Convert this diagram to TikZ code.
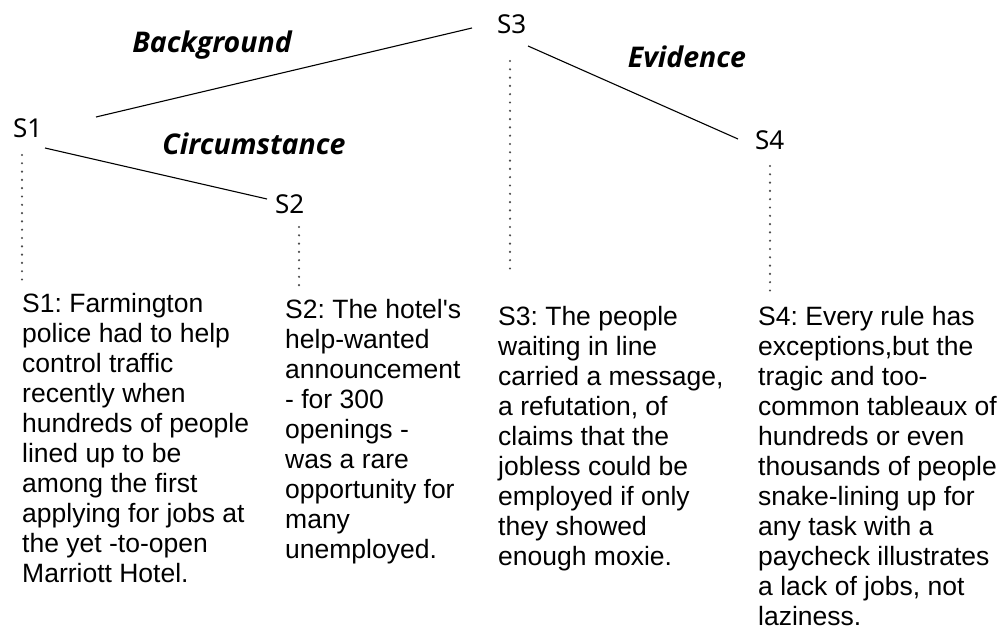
\documentclass[tikz,border=0pt]{standalone}
\usepackage{fontspec}
\setmainfont{Liberation Sans}
\newfontfamily\labfont{Noto Sans}
\newfontfamily\relfont{Open Sans}
\frenchspacing
\tikzset{
  body/.style={font=\frenchspacing\fontsize{26.5}{30}\selectfont, align=left, anchor=north west, inner sep=0pt},
  sname/.style={font=\labfont\fontsize{26}{30}\selectfont, anchor=base west, inner sep=0pt},
  rel/.style={font=\relfont\bfseries\itshape\fontsize{28.5}{32}\selectfont, anchor=base, inner sep=0pt},
  link/.style={line width=1.1pt, black},
  dots/.style={line width=2.4pt, black!70, line cap=round, dash pattern=on 0pt off 8.3pt}
}
\begin{document}
\begin{tikzpicture}[x=1pt, y=-1pt]
\useasboundingbox (0,0) rectangle (998,631);
% tree labels
\node[sname] (s1) at (13,138) {S1};
\node[sname] (s2) at (275,213) {S2};
\node[sname] (s3) at (497,34) {S3};
\node[sname] (s4) at (755,150) {S4};
% relation labels
\node[rel] (bg) at (212,53) {Background};
\node[rel] (ci) at (254,155) {Circumstance};
\node[rel] (ev) at (687,68) {Evidence};
% connector ends
\coordinate (a1) at (96,117);
\coordinate (a3) at (472,28);
\coordinate (b1) at (45,148);
\coordinate (b2) at (267,199);
\coordinate (c3) at (528,46);
\coordinate (c4) at (738,139);
\draw[link] (a1) -- (a3);
\draw[link] (b1) -- (b2);
\draw[link] (c3) -- (c4);
% dotted leaders
\coordinate (d1t) at (22,155); \coordinate (d1b) at (22,280);
\coordinate (d2t) at (299,227); \coordinate (d2b) at (299,286);
\coordinate (d3t) at (510,61); \coordinate (d3b) at (510,271);
\coordinate (d4t) at (770,166); \coordinate (d4b) at (770,292);
\draw[dots] (d1t) -- (d1b);
\draw[dots] (d2t) -- (d2b);
\draw[dots] (d3t) -- (d3b);
\draw[dots] (d4t) -- (d4b);
% texts
\node[body] (t1) at (22,293) {S1: Farmington\\police had to help\\control traffic\\recently when\\hundreds of people\\lined up to be\\among the first\\applying for jobs at\\the yet -to-open\\Marriott Hotel.};
\node[body] (t2) at (285,299) {S2: The hotel\textquotesingle s\\help-wanted\\announcement\\- for 300\\openings -\\was a rare\\opportunity for\\many\\unemployed.};
\node[body] (t3) at (498,306) {S3: The people\\waiting in line\\carried a message,\\a refutation, of\\claims that the\\jobless could be\\employed if only\\they showed\\enough moxie.};
\node[body] (t4) at (758,306) {S4: Every rule has\\exceptions,but the\\tragic and too-\\common tableaux of\\hundreds or even\\thousands of people\\snake-lining up for\\any task with a\\paycheck illustrates\\a lack of jobs, not\\laziness.};
\end{tikzpicture}
\end{document}
